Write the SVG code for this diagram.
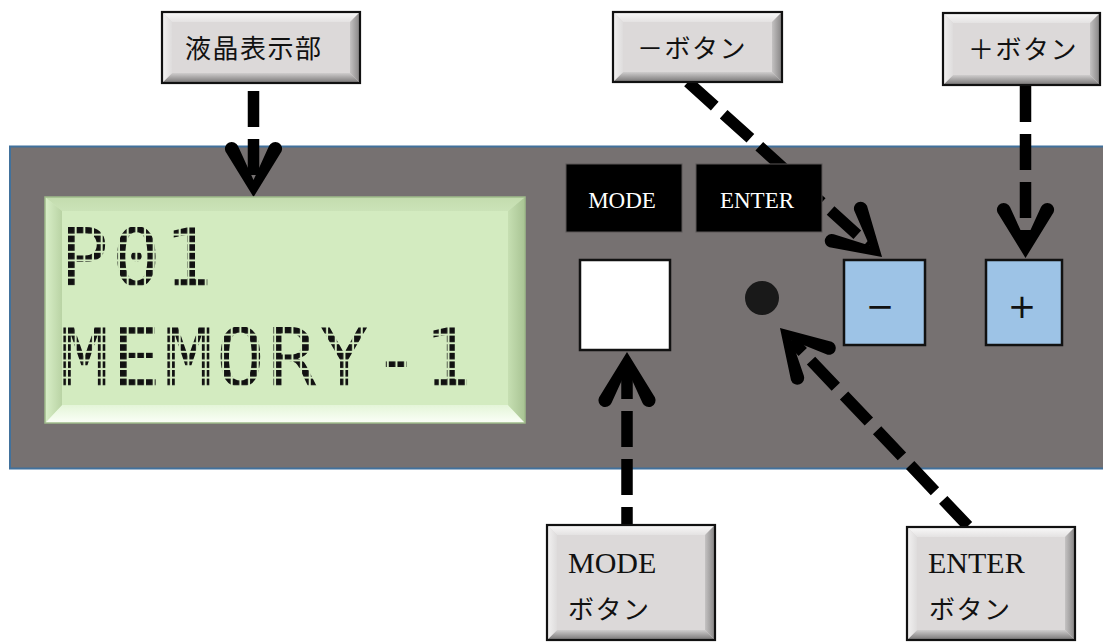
<svg xmlns="http://www.w3.org/2000/svg" width="1103" height="642" viewBox="0 0 1103 642">
  <style>
    .callout-face { fill: #dcd9d9; }
    .callout-border { fill: none; stroke: #111; stroke-width: 2.2; }
    .bev-t { fill: url(#bevT); }
    .bev-b { fill: url(#bevB); }
    .bev-l { fill: url(#bevL); }
    .bev-r { fill: url(#bevR); }
    .jp { font-family: "Noto Sans CJK JP", "Noto Sans", sans-serif; font-size: 26px; letter-spacing: 1.5px; fill: #111; }
    .serif { font-family: "Liberation Serif", "DejaVu Serif", serif; fill: #111; }
    .tag { fill: #000; stroke: #5a5757; stroke-width: 1; }
    .tag-text { font-family: "Liberation Serif", "DejaVu Serif", serif; font-size: 23px; fill: #fff; text-anchor: middle; }
    .btn { fill: #9dc3e6; stroke: #111; stroke-width: 2.5; }
    .btn-text { font-family: "DejaVu Sans", "Liberation Sans", sans-serif; font-size: 34px; fill: #111; text-anchor: middle; }
    .lcd-text { font-family: "DejaVu Sans Mono", "Liberation Mono", monospace; font-size: 81px; letter-spacing: 3.2px; }
    .conn { fill: none; stroke: #000; stroke-width: 11.5; stroke-dasharray: 36 12; marker-end: url(#head); }
  </style>
  <defs>
    <linearGradient id="bevT" x1="0" y1="0" x2="0" y2="1">
      <stop offset="0" stop-color="#fafafa"/>
      <stop offset="1" stop-color="#e4e2e2"/>
    </linearGradient>
    <linearGradient id="bevB" x1="0" y1="0" x2="0" y2="1">
      <stop offset="0" stop-color="#cfcdcd"/>
      <stop offset="1" stop-color="#767474"/>
    </linearGradient>
    <linearGradient id="bevL" x1="0" y1="0" x2="1" y2="0">
      <stop offset="0" stop-color="#f3f2f2"/>
      <stop offset="1" stop-color="#dedcdc"/>
    </linearGradient>
    <linearGradient id="bevR" x1="0" y1="0" x2="1" y2="0">
      <stop offset="0" stop-color="#c4c2c2"/>
      <stop offset="1" stop-color="#858383"/>
    </linearGradient>
    <linearGradient id="lcdT" x1="0" y1="0" x2="0" y2="1">
      <stop offset="0" stop-color="#c3dcae"/>
      <stop offset="1" stop-color="#cbe3b8"/>
    </linearGradient>
    <linearGradient id="lcdB" x1="0" y1="0" x2="0" y2="1">
      <stop offset="0" stop-color="#e4f5d8"/>
      <stop offset="1" stop-color="#fbfff8"/>
    </linearGradient>
    <linearGradient id="lcdL" x1="0" y1="0" x2="1" y2="0">
      <stop offset="0" stop-color="#d9efc8"/>
      <stop offset="1" stop-color="#b9d3a4"/>
    </linearGradient>
    <linearGradient id="lcdR" x1="0" y1="0" x2="1" y2="0">
      <stop offset="0" stop-color="#c6dfb2"/>
      <stop offset="1" stop-color="#a8c393"/>
    </linearGradient>
    <pattern id="dotsRow1" patternUnits="userSpaceOnUse" x="68" y="227" width="8.67" height="8.6">
      <rect width="6.6" height="6.6" fill="#111"/>
    </pattern>
    <pattern id="dotsRow2" patternUnits="userSpaceOnUse" x="68" y="327" width="8.67" height="8.6">
      <rect width="6.6" height="6.6" fill="#111"/>
    </pattern>
    <marker id="head" markerUnits="userSpaceOnUse" orient="auto" refX="-17" refY="0" markerWidth="80" markerHeight="80" overflow="visible">
      <path d="M0,0 L-45.5,-28 A6.8,6.8 0 0 0 -51,-15.5 L-17,0 L-51,15.5 A6.8,6.8 0 0 0 -45.5,28 Z" fill="#000"/>
    </marker>
  </defs>

  <!-- front panel body -->
  <rect id="panel" x="10" y="146.5" width="1100" height="322" fill="#767171" stroke="#41719c" stroke-width="2"/>

  <!-- leader arrows -->
  <g id="connectors">
    <path class="conn" d="M253.5,91 L253.5,180"/>
    <path class="conn" d="M688,82 L869.4,245.6"/>
    <path class="conn" d="M1025.5,86 L1025.5,241"/>
    <path class="conn" d="M627,525 L627,369" stroke-dashoffset="18"/>
    <path class="conn" d="M968,526 L791.7,340.3"/>
  </g>

  <!-- LCD display -->
  <g id="lcd">
    <rect x="45" y="197" width="480" height="226" fill="#d3ebc0"/>
    <polygon points="45,197 525,197 508,211 62,211" fill="url(#lcdT)"/>
    <polygon points="45,423 525,423 508,405 62,405" fill="url(#lcdB)"/>
    <polygon points="45,197 62,211 62,405 45,423" fill="url(#lcdL)"/>
    <polygon points="525,197 508,211 508,405 525,423" fill="url(#lcdR)"/>
    <rect x="45" y="197" width="480" height="226" fill="none" stroke="#9fbb8a" stroke-width="1.5"/>
    <text class="lcd-text" x="60" y="286" fill="url(#dotsRow1)">P01</text>
    <text class="lcd-text" x="60" y="386" fill="url(#dotsRow2)">MEMORY-1</text>
  </g>

  <!-- labels printed on the panel -->
  <g id="tag-mode">
    <rect class="tag" x="566" y="164" width="116" height="68"/>
    <text class="tag-text" x="622" y="208">MODE</text>
  </g>
  <g id="tag-enter">
    <rect class="tag" x="696" y="164" width="126" height="68"/>
    <text class="tag-text" x="757" y="208">ENTER</text>
  </g>

  <!-- controls -->
  <g id="mode-button">
    <rect x="580" y="260" width="90" height="90" fill="#fff" stroke="#111" stroke-width="2.5"/>
  </g>
  <g id="enter-button">
    <circle cx="762" cy="298" r="17" fill="#191919"/>
  </g>
  <g id="minus-button">
    <rect class="btn" x="844" y="260" width="81" height="85"/>
    <text class="btn-text" x="880" y="318">−</text>
  </g>
  <g id="plus-button">
    <rect class="btn" x="986" y="260" width="76" height="85"/>
    <text class="btn-text" x="1022" y="318">+</text>
  </g>

  <!-- callout: display -->
  <g id="callout-lcd">
    <rect class="callout-face" x="162" y="12" width="198" height="71"/>
    <polygon class="bev-t" points="162,12 360,12 350,22 172,22"/>
    <polygon class="bev-b" points="172,73 350,73 360,83 162,83"/>
    <polygon class="bev-l" points="162,12 172,22 172,73 162,83"/>
    <polygon class="bev-r" points="350,22 360,12 360,83 350,73"/>
    <rect class="callout-border" x="162" y="12" width="198" height="71"/>
    <text class="jp" x="185" y="58">液晶表示部</text>
  </g>

  <!-- callout: minus -->
  <g id="callout-minus">
    <rect class="callout-face" x="613" y="12" width="169" height="70"/>
    <polygon class="bev-t" points="613,12 782,12 772,22 623,22"/>
    <polygon class="bev-b" points="623,72 772,72 782,82 613,82"/>
    <polygon class="bev-l" points="613,12 623,22 623,72 613,82"/>
    <polygon class="bev-r" points="772,22 782,12 782,82 772,72"/>
    <rect class="callout-border" x="613" y="12" width="169" height="70"/>
    <text class="jp" x="637" y="58">－ボタン</text>
  </g>

  <!-- callout: plus -->
  <g id="callout-plus">
    <rect class="callout-face" x="943" y="13" width="157" height="72"/>
    <polygon class="bev-t" points="943,13 1100,13 1090,23 953,23"/>
    <polygon class="bev-b" points="953,75 1090,75 1100,85 943,85"/>
    <polygon class="bev-l" points="943,13 953,23 953,75 943,85"/>
    <polygon class="bev-r" points="1090,23 1100,13 1100,85 1090,75"/>
    <rect class="callout-border" x="943" y="13" width="157" height="72"/>
    <text class="jp" x="968" y="59">＋ボタン</text>
  </g>

  <!-- callout: mode -->
  <g id="callout-mode">
    <rect class="callout-face" x="547" y="525" width="168" height="115"/>
    <polygon class="bev-t" points="547,525 715,525 705,535 557,535"/>
    <polygon class="bev-b" points="557,630 705,630 715,640 547,640"/>
    <polygon class="bev-l" points="547,525 557,535 557,630 547,640"/>
    <polygon class="bev-r" points="705,535 715,525 715,640 705,630"/>
    <rect class="callout-border" x="547" y="525" width="168" height="115"/>
    <text class="serif" x="568" y="573" font-size="30">MODE</text>
    <text class="jp" x="568" y="619">ボタン</text>
  </g>

  <!-- callout: enter -->
  <g id="callout-enter">
    <rect class="callout-face" x="907" y="527" width="168" height="113"/>
    <polygon class="bev-t" points="907,527 1075,527 1065,537 917,537"/>
    <polygon class="bev-b" points="917,630 1065,630 1075,640 907,640"/>
    <polygon class="bev-l" points="907,527 917,537 917,630 907,640"/>
    <polygon class="bev-r" points="1065,537 1075,527 1075,640 1065,630"/>
    <rect class="callout-border" x="907" y="527" width="168" height="113"/>
    <text class="serif" x="928" y="573" font-size="30">ENTER</text>
    <text class="jp" x="929" y="619">ボタン</text>
  </g>
</svg>
